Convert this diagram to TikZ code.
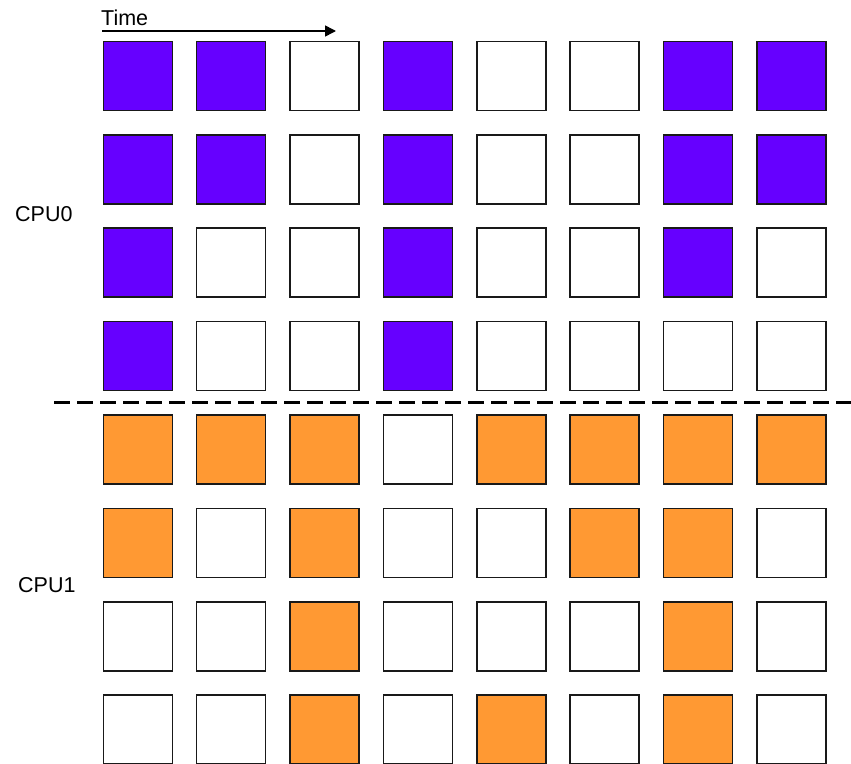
\documentclass[tikz,border=0pt]{standalone}
\usepackage{fontspec}
\setmainfont{Liberation Sans}
\usetikzlibrary{arrows.meta}
\definecolor{cpuA}{HTML}{6600FF}
\definecolor{cpuB}{HTML}{FF9933}
\begin{document}
\begin{tikzpicture}[x=1pt,y=-1pt,
  cell/.style={draw=black!90, line width=1.6pt, minimum size=69pt, inner sep=0pt, anchor=north west},
  lbl/.style={inner sep=0pt, font=\fontsize{21.5}{25}\selectfont},
  sep/.style={line width=3pt, dash pattern=on 16pt off 7pt},
  timearrow/.style={line width=1.5pt, -{Triangle[length=11pt,width=11pt]}}]
\useasboundingbox (0,0) rectangle (851,763);
\foreach \row [count=\j from 0] in {{1,1,0,1,0,0,1,1},{1,1,0,1,0,0,1,1},{1,0,0,1,0,0,1,0},{1,0,0,1,0,0,0,0},{1,1,1,0,1,1,1,1},{1,0,1,0,0,1,1,0},{0,0,1,0,0,0,1,0},{0,0,1,0,1,0,1,0}}{
  \foreach \v [count=\i from 0] in \row {
    \ifnum\j<4 \def\fc{cpuA}\else\def\fc{cpuB}\fi
    \ifnum\v=0 \def\fc{white}\fi
    \node[cell, fill=\fc] (c\j\i) at ({102.5+93.35*\i},{40.5+93.4*\j}) {};
  }
}
\node[lbl, anchor=base west] (time) at (101,25) {Time};
\coordinate (tS) at (102,31);
\coordinate (tE) at (336,31);
\draw[timearrow] (tS) -- (tE);
\coordinate (dA) at (54,402);
\coordinate (dB) at (851,402);
\draw[sep] (dA) -- (dB);
\node[lbl, anchor=west] (cpu0) at (15,214.5) {CPU0};
\node[lbl, anchor=west] (cpu1) at (18,585) {CPU1};
\end{tikzpicture}
\end{document}
